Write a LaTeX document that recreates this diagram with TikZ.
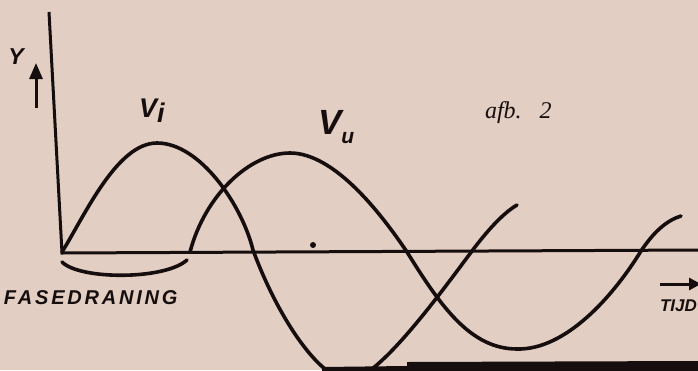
\documentclass[tikz,border=0pt]{standalone}
\usepackage{fontspec}
\setmainfont{Liberation Serif}
\newfontfamily\handfont{Liberation Sans}
\usetikzlibrary{arrows.meta}
\definecolor{paper}{RGB}{226,206,194}
\definecolor{ink}{RGB}{22,14,14}
\begin{document}
\begin{tikzpicture}[x=1pt,y=-1pt,
  curve/.style={ink,line width=3.6pt,line cap=round,line join=round},
  axisline/.style={ink,line width=3pt},
  lbl/.style={ink,inner sep=0pt,outer sep=0pt}]
\useasboundingbox (0,0) rectangle (698,370);
\fill[paper] (0,0) rectangle (698,370);
% axes
\coordinate (ytop) at (49,12);
\coordinate (origin) at (62,253);
\coordinate (xend) at (700,250);
\draw[axisline] (ytop) -- (origin) -- (xend);
\begin{scope}
\clip (0,0) rectangle (698,370);
% V_i
\draw[curve] (62,252) .. controls (85,215) and (117,143) .. (157,143)
  .. controls (200,143) and (242,205) .. (253,250)
  .. controls (278,318) and (320,380) .. (349,380)
  .. controls (378,380) and (442,291) .. (472,251)
  .. controls (490,227) and (505,212) .. (517,205);
% V_u
\draw[curve] (190,252) .. controls (205,195) and (250,153) .. (290,153)
  .. controls (335,153) and (382,215) .. (407,252)
  .. controls (440,305) and (470,349) .. (517,349)
  .. controls (565,350) and (612,298) .. (641,251)
  .. controls (655,230) and (668,220) .. (681,216);
% bottom edge
\fill[ink] (322,367) -- (407,366) -- (407,362) -- (698,361) -- (698,372) -- (322,372) -- cycle;
% time arrow
\coordinate (tstart) at (660,284);
\coordinate (tend) at (701,284);
\draw[ink,line width=3pt,-{Triangle[length=12pt,width=12pt]}] (tstart) -- (tend);
\end{scope}
% phase arc
\coordinate (pa) at (62,262);
\coordinate (pb) at (187,260);
\draw[curve] (pa) .. controls (80,280) and (165,280) .. (pb);
% dot
\fill[ink] (313,245) circle (3pt);
% y arrow
\coordinate (ya) at (36,108);
\coordinate (yb) at (36,63);
\draw[ink,line width=3pt,-{Triangle[length=16pt,width=13pt]}] (ya) -- (yb);
% labels
\node[lbl,font=\handfont\bfseries\itshape\fontsize{23}{23}\selectfont] (ylbl) at (16,57) {Y};
\node[lbl,anchor=base west,font=\handfont\bfseries\itshape\fontsize{27}{27}\selectfont] (vi) at (139,117) {V\raisebox{-5pt}{i}};
\node[lbl,anchor=base west,font=\handfont\bfseries\itshape\fontsize{35}{35}\selectfont] (vu) at (318,134) {V\raisebox{-9pt}{\fontsize{21}{21}\selectfont u}};
\node[lbl,anchor=base west,font=\itshape\fontsize{24}{24}\selectfont] (afb) at (485,118) {afb.\hspace{18pt}2};
\node[lbl,anchor=base west,font=\handfont\bfseries\itshape\fontsize{20}{20}\selectfont\addfontfeature{LetterSpace=14}] (fase) at (4,304) {FASEDRANING};
\node[lbl,anchor=base west,font=\handfont\bfseries\itshape\fontsize{17}{17}\selectfont] (tijd) at (660,311) {TIJD};
\end{tikzpicture}
\end{document}
